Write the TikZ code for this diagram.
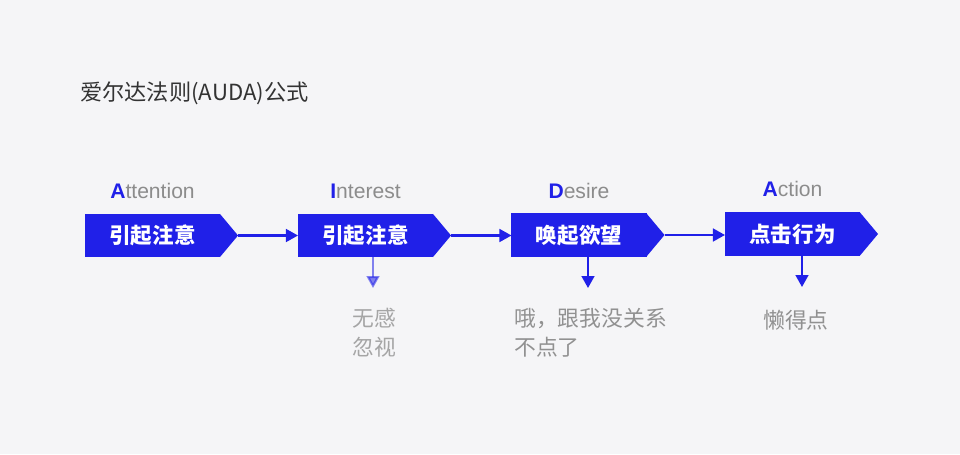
\documentclass[tikz,border=0pt]{standalone}
\usepackage{fontspec}
\setmainfont{Liberation Sans}
\newfontfamily\cjk{Noto Sans CJK SC}
\usetikzlibrary{arrows.meta, calc}

\definecolor{aidablue}{RGB}{32,32,232}
\definecolor{labelgrey}{RGB}{140,140,140}
\definecolor{notegrey}{RGB}{145,145,145}
\definecolor{titlegrey}{RGB}{51,51,51}
\definecolor{bggrey}{RGB}{245,245,247}

\tikzset{
  stagebox/.style={fill=aidablue, text=white, minimum width=3.375cm, minimum height=1.075cm,
    inner sep=0pt, outer sep=0pt, font=\cjk\bfseries\fontsize{15.3}{18}\selectfont},
  stagelabel/.style={text=labelgrey, inner sep=0pt, font=\fontsize{15}{18}\selectfont},
  note/.style={text=notegrey, inner sep=0pt, align=left, anchor=north west,
    font=\cjk\fontsize{15.5}{20.5}\selectfont},
  flow/.style={aidablue, line width=1.5pt, -{Triangle[length=0.3cm,width=0.32cm]}},
}
\newcommand{\firstletter}[1]{\textcolor{aidablue}{\textbf{#1}}}

\begin{document}
\begin{tikzpicture}[x=0.025cm, y=-0.025cm]
% Canvas (pixel grid of the slide)
\fill[bggrey] (0,0) rectangle (960,454);
\useasboundingbox (0,0) rectangle (960,454);

% Title
\node[anchor=west, inner sep=0pt, text=titlegrey, font=\cjk\fontsize{15.8}{18}\selectfont] (title) at (80,93) {爱尔达法则(AUDA)公式};

% Stage 1: Attention
\node[stagebox] (b1) at (152.5,235.5) {引起注意};
\coordinate (t1) at ([xshift=0.45cm]b1.east);
\fill[aidablue] (b1.north east) -- (t1) -- (b1.south east) -- cycle;
\node[stagelabel] (l1) at (152.5,191) {\firstletter{A}ttention};

% Stage 2: Interest
\node[stagebox] (b2) at (365.5,235.5) {引起注意};
\coordinate (t2) at ([xshift=0.45cm]b2.east);
\fill[aidablue] (b2.north east) -- (t2) -- (b2.south east) -- cycle;
\node[stagelabel] (l2) at (365.5,191) {\firstletter{I}nterest};

% Stage 3: Desire
\node[stagebox] (b3) at (579,235) {唤起欲望};
\coordinate (t3) at ([xshift=0.45cm]b3.east);
\fill[aidablue] (b3.north east) -- (t3) -- (b3.south east) -- cycle;
\node[stagelabel] (l3) at (579,191) {\firstletter{D}esire};

% Stage 4: Action
\node[stagebox] (b4) at (792.5,234) {点击行为};
\coordinate (t4) at ([xshift=0.45cm]b4.east);
\fill[aidablue] (b4.north east) -- (t4) -- (b4.south east) -- cycle;
\node[stagelabel] (l4) at (792.5,189) {\firstletter{A}ction};

% Flow between stages
\draw[flow] (t1) -- (t1 -| b2.west);
\draw[flow] (t2) -- (t2 -| b3.west);
\draw[flow] (t3) -- (t3 -| b4.west);

% Reactions
\coordinate (d2) at (373,288);
\coordinate (d3) at (588,288);
\coordinate (d4) at (802,287);
\draw[flow, opacity=0.55] (d2 |- b2.south) -- (d2);
\draw[flow] (d3 |- b3.south) -- (d3);
\draw[flow] (d4 |- b4.south) -- (d4);

\node[note, opacity=0.8] (n2) at (352,308) {无感\\忽视};
\node[note] (n3) at (514,308) {哦，跟我没关系\\不点了};
\node[note] (n4) at (763,310) {懒得点};
\end{tikzpicture}
\end{document}
